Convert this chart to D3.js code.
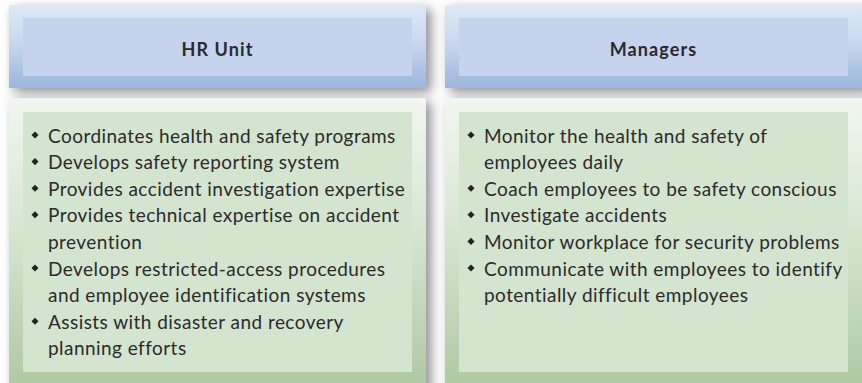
<!DOCTYPE html>
<html><head><meta charset="utf-8">
<script src="https://cdn.jsdelivr.net/npm/d3@7"></script>
<style>html,body{margin:0;padding:0;background:#fff;}svg{display:block;}</style>
</head><body>
<svg id="c" width="862" height="383"></svg>
<script>
const columns = ["HR Unit", "Managers"];
const hrItems = [
  ["Coordinates health and safety programs"],
  ["Develops safety reporting system"],
  ["Provides accident investigation expertise"],
  ["Provides technical expertise on accident", "prevention"],
  ["Develops restricted-access procedures", "and employee identification systems"],
  ["Assists with disaster and recovery", "planning efforts"]
];
const managerItems = [
  ["Monitor the health and safety of", "employees daily"],
  ["Coach employees to be safety conscious"],
  ["Investigate accidents"],
  ["Monitor workplace for security problems"],
  ["Communicate with employees to identify", "potentially difficult employees"]
];
const itemsByColumn = [hrItems, managerItems];

const svg = d3.select("#c");
const defs = svg.append("defs");

const hg = defs.append("linearGradient").attr("id","hg").attr("x1",0).attr("y1",0).attr("x2",0).attr("y2",1);
hg.append("stop").attr("offset","0%").attr("stop-color","#dde9f6");
hg.append("stop").attr("offset","45%").attr("stop-color","#c9d8ee");
hg.append("stop").attr("offset","100%").attr("stop-color","#9bb5dc");
const bg = defs.append("linearGradient").attr("id","bg").attr("x1",0).attr("y1",0).attr("x2",0).attr("y2",1);
bg.append("stop").attr("offset","0%").attr("stop-color","#f1f6ef");
bg.append("stop").attr("offset","40%").attr("stop-color","#d9e8d4");
bg.append("stop").attr("offset","100%").attr("stop-color","#adc7a1");
const sh = defs.append("filter").attr("id","sh").attr("x","-10%").attr("y","-20%").attr("width","130%").attr("height","150%");
sh.append("feDropShadow").attr("dx",5).attr("dy",4).attr("stdDeviation",6).attr("flood-color","#5c5c66").attr("flood-opacity",0.7);

const x = d3.scaleBand().domain(columns).range([9, 862]).paddingInner(0.0436).paddingOuter(0);
const inset = 14;
const headerTop = 5, headerBottom = 88, bodyTop = 98, bodyBottom = 395;
const lineH = 26.6;
const firstLine = 135;
const yLine = d3.scaleLinear().domain([0, 1]).range([firstLine, firstLine + lineH]);

columns.forEach((col, ci) => {
  const x0 = x(col), w = x.bandwidth() + (ci === columns.length - 1 ? 6 : 0);
  const g = svg.append("g");
  g.append("rect").attr("x", x0).attr("y", headerTop).attr("width", w).attr("height", headerBottom - headerTop)
    .attr("fill", "url(#hg)").attr("filter", "url(#sh)");
  g.append("rect").attr("x", x0 + inset).attr("y", headerTop + 13).attr("width", x.bandwidth() - 2 * inset).attr("height", 58)
    .attr("fill", "#c5d3ed");
  g.append("text").attr("x", x0 + x.bandwidth() / 2).attr("y", 49).attr("text-anchor", "middle").attr("dominant-baseline", "central")
    .attr("font-family", "Lato, sans-serif").attr("font-weight", "bold").attr("font-size", 18).attr("letter-spacing", 1.1)
    .attr("fill", "#2a2a2a").text(col);
  g.append("rect").attr("x", x0).attr("y", bodyTop).attr("width", w).attr("height", bodyBottom - bodyTop)
    .attr("fill", "url(#bg)").attr("filter", "url(#sh)");
  g.append("rect").attr("x", x0 + inset).attr("y", 112).attr("width", x.bandwidth() - 2 * inset).attr("height", 260)
    .attr("fill", "#d3e4cf");
  let li = 0;
  itemsByColumn[ci].forEach(item => {
    const yy = yLine(li);
    g.append("path").attr("d", d3.symbol(d3.symbolDiamond2, 32)())
      .attr("transform", `translate(${x0 + inset + 12},${yy})`).attr("fill", "#222");
    item.forEach(line => {
      g.append("text").attr("x", x0 + inset + 25).attr("y", yLine(li)).attr("dominant-baseline", "central")
        .attr("font-family", "Lato, sans-serif").attr("font-size", 19).attr("letter-spacing", 0.45)
        .attr("fill", "#2b2b2b").text(line);
      li++;
    });
  });
});
</script>
</body></html>
